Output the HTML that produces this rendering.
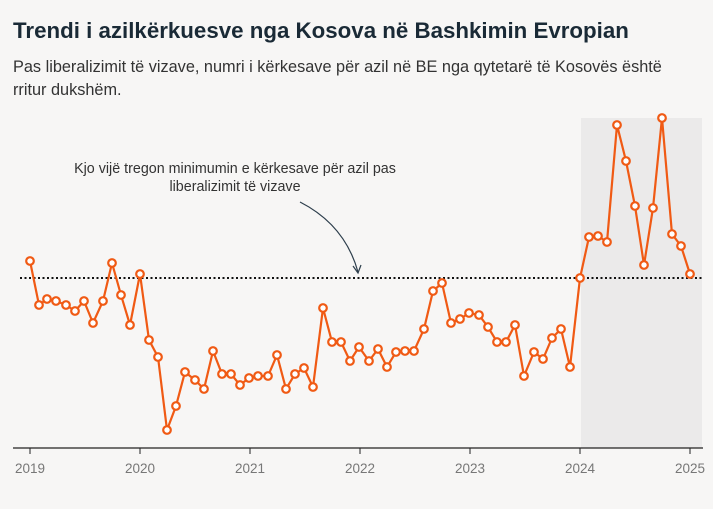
<!DOCTYPE html>
<html><head><meta charset="utf-8"><style>
body{margin:0;width:713px;height:504px;background:#f7f6f5;font-family:"Liberation Sans",sans-serif;overflow:hidden}
</style></head><body>
<svg width="713" height="504" xmlns="http://www.w3.org/2000/svg">
<text x="13" y="38" font-size="22.3" font-weight="bold" fill="#1a2a36" font-family="Liberation Sans">Trendi i azilkërkuesve nga Kosova në Bashkimin Evropian</text>
<text x="13" y="72" font-size="16.3" fill="#333" font-family="Liberation Sans">Pas liberalizimit të vizave, numri i kërkesave për azil në BE nga qytetarë të Kosovës është</text>
<text x="13" y="95" font-size="16.3" fill="#333" font-family="Liberation Sans">rritur dukshëm.</text>
<rect x="581" y="118" width="121" height="330" fill="#ebeaea"/>
<line x1="20" y1="278" x2="702" y2="278" stroke="#111" stroke-width="2" stroke-dasharray="2,2.5"/>
<text x="235" y="173" font-size="14.3" fill="#333" text-anchor="middle" font-family="Liberation Sans">Kjo vijë tregon minimumin e kërkesave për azil pas</text>
<text x="235" y="191" font-size="14.3" fill="#333" text-anchor="middle" font-family="Liberation Sans">liberalizimit të vizave</text>
<path d="M300,202 Q345,225 358,272" fill="none" stroke="#2d3e4c" stroke-width="1.2"/>
<path d="M353,266 L358,273 L361,265" fill="none" stroke="#2d3e4c" stroke-width="1.2"/>
<line x1="13" y1="448" x2="703" y2="448" stroke="#222" stroke-width="1.3"/>
<g stroke="#222" stroke-width="1"><line x1="30" y1="448" x2="30" y2="454"/><line x1="140" y1="448" x2="140" y2="454"/><line x1="250" y1="448" x2="250" y2="454"/><line x1="360" y1="448" x2="360" y2="454"/><line x1="470" y1="448" x2="470" y2="454"/><line x1="580" y1="448" x2="580" y2="454"/><line x1="690" y1="448" x2="690" y2="454"/></g>
<g font-size="13.5" fill="#777" text-anchor="middle" font-family="Liberation Sans"><text x="30" y="473">2019</text><text x="140" y="473">2020</text><text x="250" y="473">2021</text><text x="360" y="473">2022</text><text x="470" y="473">2023</text><text x="580" y="473">2024</text><text x="690" y="473">2025</text></g>
<polyline id="l" fill="none" stroke="#f05a14" stroke-width="2.2" points="30,261 39,305 47,299 56,301 66,305 75,311 84,301 93,323 103,301 112,263 121,295 130,325 140,274 149,340 158,357 167,430 176,406 185,372 195,380 204,389 213,351 222,374 231,374 240,385 249,378 258,376 268,376 277,355 286,389 295,374 304,368 313,387 323,308 332,342 341,342 350,361 359,347 369,361 378,349 387,367 396,352 405,351 414,351 424,329 433,291 442,283 451,323 460,319 469,313 479,315 488,327 497,342 506,342 515,325 524,376 534,352 543,359 552,338 561,329 570,367 580,278 589,237 598,236 607,242 617,125 626,161 635,206 644,265 653,208 662,118 672,234 681,246 690,274"/>
<g fill="#fff" stroke="#f05a14" stroke-width="2.2" id="pts"></g>
</svg>
<script>
var p=document.getElementById('l').getAttribute('points').trim().split(/\s+/),g=document.getElementById('pts');
p.forEach(function(s){var a=s.split(',');var c=document.createElementNS('http://www.w3.org/2000/svg','circle');c.setAttribute('cx',a[0]);c.setAttribute('cy',a[1]);c.setAttribute('r','3.8');g.appendChild(c);});
</script>
</body></html>
